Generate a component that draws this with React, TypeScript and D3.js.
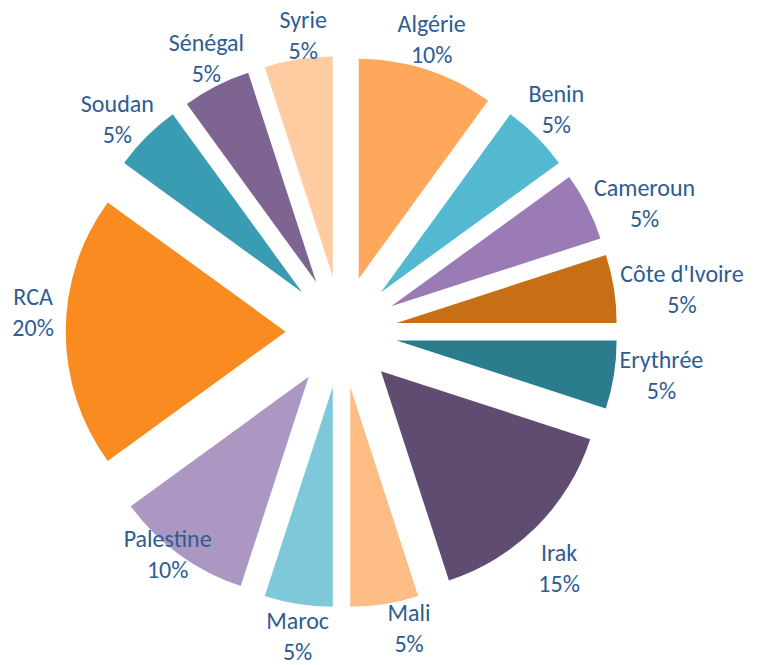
import React from "react";
import * as d3 from "d3";

const categories = [
  "Algérie", "Benin", "Cameroun", "Côte d'Ivoire", "Erythrée", "Irak", "Mali",
  "Maroc", "Palestine", "RCA", "Soudan", "Sénégal", "Syrie",
];
const values = [10, 5, 5, 5, 5, 15, 5, 5, 10, 20, 5, 5, 5];
const colors = [
  "#FFA85B", "#52B9D0", "#9A7BB5", "#C66F14", "#2B7C8D", "#604B71", "#FFBD86",
  "#7DC8D9", "#AC97C3", "#F98B20", "#3A9CB3", "#7D6491", "#FFCBA1",
];
// label placement: angle delta from slice bisector (deg), distance from pie centre (px)
const labelAngleDelta = [-0.8, -0.95, 4.1, 2.0, -1.05, 2.5, -3.8, -0.8, 1.9, 3.5, -1.7, 0.6, 1.6];
const labelDist = [305, 309, 329, 343, 323, 322, 305, 308, 283, 309, 308, 304, 298];

const W = 764;
const H = 665;
const CX = 341.5;
const CY = 331.7;
const R = 220;
const EXPLODE = 55.8;

export default function App() {
  const total = d3.sum(values);
  const pie = d3
    .pie<number>()
    .sort(null)
    .value((d) => d)
    .startAngle(0)
    .endAngle(2 * Math.PI);
  const arcs = pie(values);
  const arc = d3.arc<d3.PieArcDatum<number>>().innerRadius(0).outerRadius(R);
  const fmt = (v: number) => `${Math.round((v / total) * 100)}%`;

  return (
    <svg
      width={W}
      height={H}
      style={{ position: "absolute", left: 0, top: 0, background: "#fff" }}
      fontFamily="Calibri, Carlito, Lato, sans-serif"
    >
      <g transform={`translate(${CX},${CY})`}>
        {arcs.map((a, i) => {
          const mid = (a.startAngle + a.endAngle) / 2;
          const ox = Math.sin(mid) * EXPLODE;
          const oy = -Math.cos(mid) * EXPLODE;
          return (
            <path
              key={categories[i]}
              d={arc(a) || ""}
              transform={`translate(${ox},${oy})`}
              fill={colors[i]}
            />
          );
        })}
        {arcs.map((a, i) => {
          const mid = (a.startAngle + a.endAngle) / 2 + (labelAngleDelta[i] * Math.PI) / 180;
          const lx = Math.sin(mid) * labelDist[i];
          const ly = -Math.cos(mid) * labelDist[i];
          return (
            <text
              key={"l" + categories[i]}
              textAnchor="middle"
              fill="#2D5D93"
              fontSize={24}
            >
              <tspan x={lx} y={ly - 8}>
                {categories[i]}
              </tspan>
              <tspan x={lx} y={ly + 23}>
                {fmt(values[i])}
              </tspan>
            </text>
          );
        })}
      </g>
    </svg>
  );
}
